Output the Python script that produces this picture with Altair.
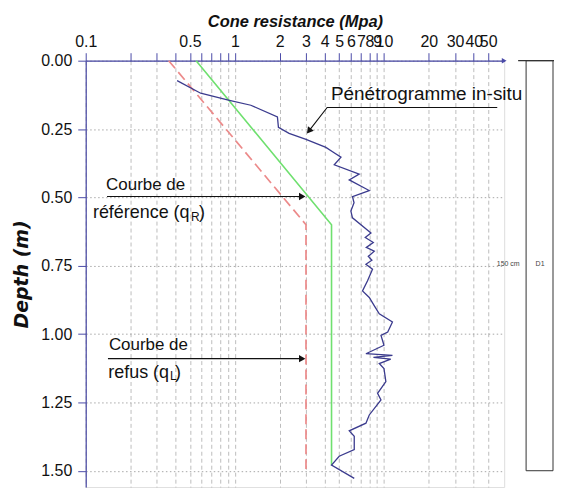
import altair as alt
import pandas as pd

# ---------------- data ----------------
PEN_DEPTH = [0.073, 0.119, 0.145, 0.163, 0.206, 0.244, 0.266, 0.288, 0.317, 0.333,
             0.353, 0.381, 0.415, 0.436, 0.475, 0.497, 0.52, 0.55, 0.575, 0.630,
             0.647, 0.665, 0.683, 0.697, 0.716, 0.73, 0.745, 0.763, 0.805, 0.842,
             0.866, 0.896, 0.926, 0.956, 0.993, 1.005, 1.041, 1.072, 1.078, 1.085,
             1.092, 1.108, 1.126, 1.174, 1.217, 1.241, 1.296, 1.326, 1.354, 1.374,
             1.423, 1.447, 1.479, 1.528]
PEN_Q = [0.41, 0.59, 0.92, 1.28, 1.93, 1.96, 2.31, 3.0, 4.08, 4.52,
         5.15, 4.64, 6.82, 5.85, 7.96, 6.15, 6.3, 6.0, 6.15, 8.18,
         7.49, 8.48, 7.61, 8.61, 7.85, 8.3, 7.57, 8.38, 7.76, 7.18,
         7.97, 8.6, 9.3, 11.4, 10.6, 9.55, 10.0, 7.57, 11.4, 8.5,
         11.1, 9.3, 10.0, 10.3, 9.06, 9.55, 7.97, 7.57, 5.85, 6.32,
         6.32, 5.01, 4.45, 6.32]

REF_DEPTH = [0.0, 0.6, 1.48]      # courbe de référence (qR)
REF_Q = [0.55, 4.45, 4.45]
REFUS_DEPTH = [0.0, 0.6, 1.5]     # courbe de refus (qL)
REFUS_Q = [0.36, 3.0, 3.0]

X_TICKS = [0.1, 0.2, 0.3, 0.4, 0.5, 0.6, 0.7, 0.8, 0.9, 1, 2, 3, 4, 5, 6, 7, 8, 9,
           10, 20, 30, 40, 50]
X_LABELED = [0.1, 0.5, 1, 2, 3, 4, 5, 6, 7, 8, 9, 10, 20, 30, 40, 50]
Y_TICKS = [0.0, 0.25, 0.5, 0.75, 1.0, 1.25, 1.5]
X_DOMAIN = [0.1, 64]
Y_DOMAIN = [0.0, 1.56]

X_TITLE = "Cone resistance (Mpa)"
Y_TITLE = "Depth (m)"

# annotations (anchored in data space: q, depth)
LEADER_Q = [57.5, 4.16, 3.17]
LEADER_D = [0.171, 0.171, 0.254]
ARROW1_Q = [0.139, 2.83]
ARROW1_D = [0.497, 0.497]
ARROW2_Q = [0.141, 2.83]
ARROW2_D = [1.09, 1.09]
HEAD_Q = [2.83, 2.83]
HEAD_D = [0.497, 1.09]
DIAG_HEAD = {"q": [3.17], "d": [0.254]}

SOIL_TOP, SOIL_BOTTOM = 0.0, 1.5
SOIL_LABEL_DEPTH = 0.745

# ---------------- styling ----------------
NARROW = "Liberation Sans Narrow, Arial Narrow, Liberation Sans, Arial, sans-serif"
AX = "#4b4ba8"
BLUE = "#3b3b8e"
GREEN = "#6fe06f"
RED = "#ec8a8a"

xscale = alt.Scale(type="log", domain=X_DOMAIN, nice=False)
yscale = alt.Scale(domain=Y_DOMAIN, reverse=True, nice=False)

label_list = ",".join(str(v) for v in X_LABELED)
x_axis = alt.Axis(
    orient="top", values=X_TICKS,
    labelExpr=f"indexof([{label_list}], datum.value) >= 0 ? format(datum.value, '~g') : ''",
    title=X_TITLE, titleFont="Liberation Sans", titleFontSize=16.5, titleFontStyle="italic",
    titleFontWeight="bold", titleColor="#111", titlePadding=4,
    labelFont=NARROW, labelFontSize=16, labelColor="#111", labelPadding=3,
    labelOverlap=False, labelFlush=False, labelBound=False,
    tickSize=8, tickColor=AX, domainColor=AX, domainWidth=1.2,
    grid=True, gridColor="#bdbdbd", gridDash=[4, 3], gridWidth=1,
)
y_axis = alt.Axis(
    values=Y_TICKS, format=".2f",
    title=Y_TITLE, titleFont="DejaVu Sans", titleFontSize=19, titleFontStyle="italic",
    titleFontWeight="bold", titleColor="#111", titlePadding=9,
    labelFont=NARROW, labelFontSize=16, labelColor="#111", labelPadding=6,
    tickSize=8, tickColor=AX, domainColor=AX, domainWidth=1.2,
    grid=True, gridColor="#a8a8a8", gridDash=[1.5, 2.5], gridWidth=1,
)


def X(field="q"):
    return alt.X(f"{field}:Q", scale=xscale, axis=x_axis)


def Y(field="d"):
    return alt.Y(f"{field}:Q", scale=yscale, axis=y_axis)


def line_df(qs, ds):
    return pd.DataFrame({"q": qs, "d": ds, "i": list(range(len(qs)))})


pen = alt.Chart(line_df(PEN_Q, PEN_DEPTH)).mark_line(color=BLUE, strokeWidth=1.3).encode(
    x=X(), y=Y(), order="i:Q")
ref = alt.Chart(line_df(REF_Q, REF_DEPTH)).mark_line(color=GREEN, strokeWidth=1.6).encode(
    x=X(), y=Y(), order="i:Q")
refus = alt.Chart(line_df(REFUS_Q, REFUS_DEPTH)).mark_line(
    color=RED, strokeWidth=1.7, strokeDash=[10, 5]).encode(x=X(), y=Y(), order="i:Q")

leader = alt.Chart(line_df(LEADER_Q, LEADER_D)).mark_line(color="#111", strokeWidth=1.1).encode(
    x=X(), y=Y(), order="i:Q")
arrow1 = alt.Chart(line_df(ARROW1_Q, ARROW1_D)).mark_line(color="#111", strokeWidth=1.1).encode(
    x=X(), y=Y(), order="i:Q")
arrow2 = alt.Chart(line_df(ARROW2_Q, ARROW2_D)).mark_line(color="#111", strokeWidth=1.1).encode(
    x=X(), y=Y(), order="i:Q")
heads = alt.Chart(pd.DataFrame({"q": HEAD_Q, "d": HEAD_D})).mark_point(
    shape="triangle-right", filled=True, color="#111", size=55, opacity=1).encode(x=X(), y=Y())
diag_head = alt.Chart(pd.DataFrame(DIAG_HEAD)).mark_point(
    shape="triangle", angle=218, filled=True, color="#111", size=55, opacity=1).encode(x=X(), y=Y())
axis_arrow = alt.Chart(pd.DataFrame({"q": [X_DOMAIN[1]], "d": [Y_DOMAIN[0]]})).mark_point(
    shape="triangle-right", filled=True, color=AX, size=30, opacity=1).encode(x=X(), y=Y())

# texts
TXT_BIG = pd.DataFrame({"q": [4.41], "d": [0.145], "t": ["Pénétrogramme in-situ"]})
TXT_LEFT = pd.DataFrame({
    "q": [0.137, 0.143],
    "d": [0.472, 1.060],
    "t": ["Courbe de", "Courbe de"],
})
TXT_RIGHT = pd.DataFrame({
    "q": [0.497, 0.362],
    "d": [0.575, 1.160],
    "t": ["référence (q", "refus (q"],
})
TXT_SUB = pd.DataFrame({"q": [0.509, 0.368], "d": [0.587, 1.168], "t": ["R", "L"]})
TXT_PAREN = pd.DataFrame({"q": [0.576, 0.397], "d": [0.575, 1.160], "t": [")", ")"]})

t_big = alt.Chart(TXT_BIG).mark_text(align="left", baseline="alphabetic", font=NARROW,
                                     fontSize=19, color="#111").encode(x=X(), y=Y(), text="t:N")
t_left = alt.Chart(TXT_LEFT).mark_text(align="left", baseline="alphabetic", font=NARROW,
                                       fontSize=17, color="#111").encode(x=X(), y=Y(), text="t:N")
t_right = alt.Chart(TXT_RIGHT).mark_text(align="right", baseline="alphabetic", font=NARROW,
                                         fontSize=18, color="#111").encode(x=X(), y=Y(), text="t:N")
t_sub = alt.Chart(TXT_SUB).mark_text(align="left", baseline="alphabetic", font=NARROW,
                                     fontSize=12, color="#111").encode(x=X(), y=Y(), text="t:N")
t_paren = alt.Chart(TXT_PAREN).mark_text(align="left", baseline="alphabetic", font=NARROW,
                                         fontSize=18, color="#111").encode(x=X(), y=Y(), text="t:N")

# soil column at the right
soil = pd.DataFrame({"d": [SOIL_TOP], "d2": [SOIL_BOTTOM]})
box = alt.Chart(soil).mark_rect(fill="white", stroke="#333", strokeWidth=1).encode(
    x=alt.value(442), x2=alt.value(469), y=Y("d"), y2="d2:Q")
top_line = alt.Chart(soil).mark_rule(color="#333", strokeWidth=1.2).encode(
    x=alt.value(434), x2=alt.value(470), y=Y("d"))
soil_lab = pd.DataFrame({"d": [SOIL_LABEL_DEPTH]})
lab150 = alt.Chart(soil_lab).mark_text(fontSize=7, color="#444", font="Liberation Sans").encode(
    x=alt.value(424), y=Y("d"), text=alt.value("150 cm"))
labD1 = alt.Chart(soil_lab).mark_text(fontSize=7, color="#444", font="Liberation Sans").encode(
    x=alt.value(456), y=Y("d"), text=alt.value("D1"))

chart = alt.layer(
    refus, ref, pen, leader, arrow1, arrow2, heads, diag_head, axis_arrow,
    t_big, t_left, t_right, t_sub, t_paren, box, top_line, lab150, labD1,
).properties(
    width=420, height=428,
    padding={"left": 4, "top": 5, "right": 0, "bottom": 0},
).configure_view(stroke=None).configure(background="white")

chart.save("out.html", embed_options={"renderer": "svg", "actions": False})
